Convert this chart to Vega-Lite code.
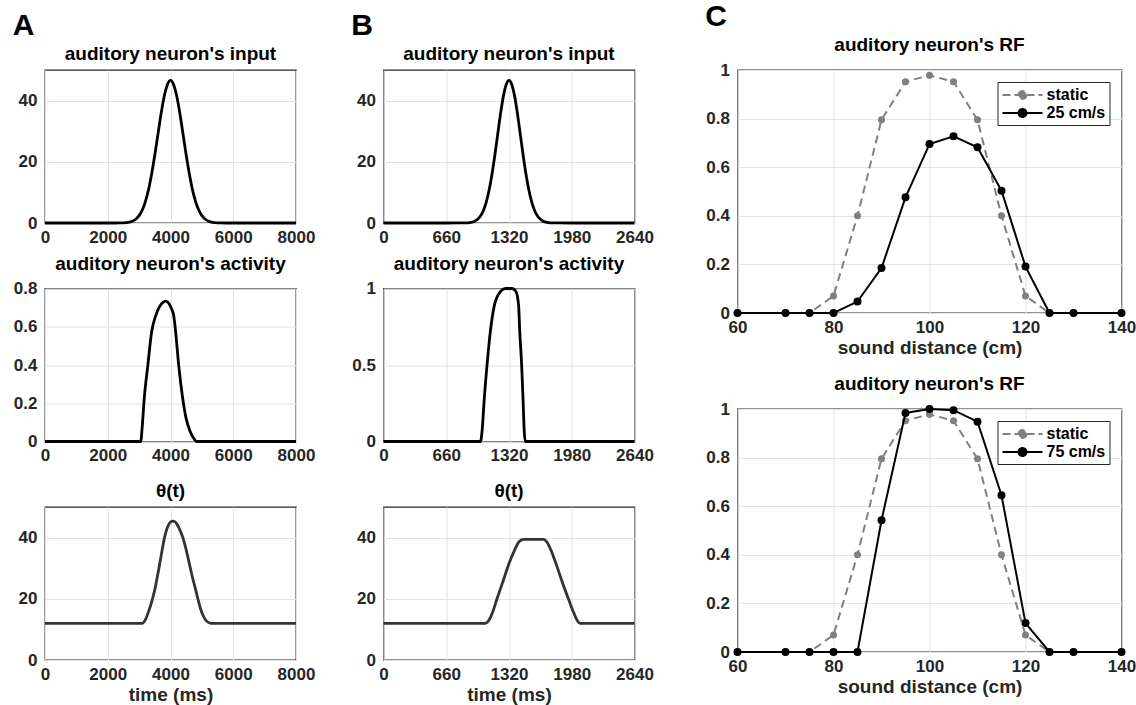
{
  "$schema": "https://vega.github.io/schema/vega-lite/v6.json",
  "background": "white",
  "padding": {"left": 12, "top": 2, "right": 0, "bottom": 0},
  "config": {
    "font": "Liberation Sans",
    "view": {"stroke": "#262626", "strokeWidth": 1.3},
    "axis": {
      "labelFont": "Liberation Sans", "labelFontWeight": "bold", "labelFontSize": 17, "labelColor": "#262626",
      "titleFont": "Liberation Sans", "titleFontWeight": "bold", "titleFontSize": 19, "titleColor": "#262626",
      "grid": true, "gridColor": "#e3e3e3", "gridWidth": 1, "domain": false, "ticks": false,
      "labelFlush": false, "labelOverlap": false, "labelPadding": 6, "titlePadding": 3
    },
    "axisY": {"labelPadding": 8},
    "title": {"font": "Liberation Sans", "fontSize": 19, "fontWeight": "bold", "color": "#000000", "offset": 6},
    "legend": {
      "title": null, "orient": "top-right", "offset": 12, "padding": 4,
      "strokeColor": "#262626", "fillColor": "white",
      "labelFont": "Liberation Sans", "labelFontSize": 16, "labelFontWeight": "bold", "labelColor": "#000000",
      "symbolType": "M-1,0L4,0M1,0A0.5,0.5,0,1,1,2,0A0.5,0.5,0,1,1,1,0Z",
      "symbolSize": 256, "symbolStrokeWidth": 2, "rowPadding": 1, "labelOffset": 27
    }
  },
  "hconcat": [
    {
      "hconcat": [
        {
          "title": {"text": "A", "anchor": "start", "fontSize": 30, "fontWeight": "bold", "offset": 3},
          "vconcat": [
            {
              "width": 251, "height": 153,
              "title": "auditory neuron's input",
              "data": {"values": [
                {"t":0,"v":0},{"t":2000,"v":0},{"t":2400,"v":0.02},{"t":2600,"v":0.14},{"t":2700,"v":0.31},{"t":2800,"v":0.66},{"t":2900,"v":1.3},{"t":3000,"v":2.41},{"t":3100,"v":4.24},{"t":3200,"v":7.01},{"t":3300,"v":10.9},{"t":3400,"v":16.1},{"t":3500,"v":22.2},{"t":3600,"v":29.0},{"t":3700,"v":35.7},{"t":3800,"v":41.4},{"t":3900,"v":45.2},{"t":4000,"v":46.6},{"t":4100,"v":45.2},{"t":4200,"v":41.4},{"t":4300,"v":35.7},{"t":4400,"v":29.0},{"t":4500,"v":22.2},{"t":4600,"v":16.1},{"t":4700,"v":10.9},{"t":4800,"v":7.01},{"t":4900,"v":4.24},{"t":5000,"v":2.41},{"t":5100,"v":1.3},{"t":5200,"v":0.66},{"t":5300,"v":0.31},{"t":5400,"v":0.14},{"t":5600,"v":0.02},{"t":6000,"v":0},{"t":8000,"v":0}
              ]},
              "mark": {"type": "line", "color": "#000000", "strokeWidth": 2.8, "interpolate": "monotone"},
              "encoding": {
                "x": {"field": "t", "type": "quantitative", "scale": {"domain": [0, 8000], "nice": false}, "axis": {"values": [0, 2000, 4000, 6000, 8000], "format": "d", "title": null}},
                "y": {"field": "v", "type": "quantitative", "scale": {"domain": [0, 50], "nice": false}, "axis": {"values": [0, 20, 40], "title": null}}
              }
            },
            {
              "width": 251, "height": 153,
              "title": "auditory neuron's activity",
              "data": {"values": [
                {"t":0,"v":0},{"t":3050,"v":0},{"t":3100,"v":0.08},{"t":3165,"v":0.229},{"t":3280,"v":0.402},{"t":3400,"v":0.575},{"t":3536,"v":0.661},{"t":3650,"v":0.705},{"t":3760,"v":0.727},{"t":3855,"v":0.734},{"t":3950,"v":0.722},{"t":4030,"v":0.695},{"t":4099,"v":0.661},{"t":4163,"v":0.575},{"t":4259,"v":0.402},{"t":4386,"v":0.229},{"t":4492,"v":0.125},{"t":4620,"v":0.055},{"t":4758,"v":0.012},{"t":4830,"v":0},{"t":8000,"v":0}
              ]},
              "mark": {"type": "line", "color": "#000000", "strokeWidth": 2.8, "interpolate": "monotone"},
              "encoding": {
                "x": {"field": "t", "type": "quantitative", "scale": {"domain": [0, 8000], "nice": false}, "axis": {"values": [0, 2000, 4000, 6000, 8000], "format": "d", "title": null}},
                "y": {"field": "v", "type": "quantitative", "scale": {"domain": [0, 0.8], "nice": false}, "axis": {"values": [0, 0.2, 0.4, 0.6, 0.8], "format": "~g", "title": null}}
              }
            },
            {
              "width": 251, "height": 153,
              "title": "θ(t)",
              "data": {"values": [
                {"t":0,"v":12},{"t":3100,"v":12},{"t":3200,"v":13.2},{"t":3300,"v":15.8},{"t":3400,"v":19},{"t":3500,"v":23},{"t":3600,"v":28.3},{"t":3700,"v":34},{"t":3809,"v":40},{"t":3900,"v":43.3},{"t":4000,"v":45.1},{"t":4074,"v":45.4},{"t":4150,"v":45.1},{"t":4200,"v":44.5},{"t":4300,"v":42.5},{"t":4394,"v":40},{"t":4500,"v":36},{"t":4600,"v":31.5},{"t":4700,"v":27},{"t":4800,"v":23},{"t":4872,"v":20},{"t":4950,"v":17},{"t":5050,"v":14.3},{"t":5150,"v":12.7},{"t":5250,"v":12.1},{"t":5300,"v":12},{"t":8000,"v":12}
              ]},
              "mark": {"type": "line", "color": "#333333", "strokeWidth": 2.8, "interpolate": "monotone"},
              "encoding": {
                "x": {"field": "t", "type": "quantitative", "scale": {"domain": [0, 8000], "nice": false}, "axis": {"values": [0, 2000, 4000, 6000, 8000], "format": "d", "title": "time (ms)"}},
                "y": {"field": "v", "type": "quantitative", "scale": {"domain": [0, 50], "nice": false}, "axis": {"values": [0, 20, 40], "title": null}}
              }
            }
          ],
          "spacing": 65.5,
          "bounds": "flush"
        },
        {
          "title": {"text": "B", "anchor": "start", "fontSize": 30, "fontWeight": "bold", "offset": 3},
          "vconcat": [
            {
              "width": 251, "height": 153,
              "title": "auditory neuron's input",
              "data": {"values": [
                {"t":0,"v":0},{"t":660,"v":0},{"t":860,"v":0.04},{"t":920,"v":0.22},{"t":960,"v":0.6},{"t":990,"v":1.2},{"t":1020,"v":2.27},{"t":1050,"v":4.03},{"t":1080,"v":6.73},{"t":1110,"v":10.6},{"t":1140,"v":15.7},{"t":1170,"v":21.9},{"t":1200,"v":28.7},{"t":1230,"v":35.5},{"t":1260,"v":41.3},{"t":1290,"v":45.2},{"t":1320,"v":46.6},{"t":1350,"v":45.2},{"t":1380,"v":41.3},{"t":1410,"v":35.5},{"t":1440,"v":28.7},{"t":1470,"v":21.9},{"t":1500,"v":15.7},{"t":1530,"v":10.6},{"t":1560,"v":6.73},{"t":1590,"v":4.03},{"t":1620,"v":2.27},{"t":1650,"v":1.2},{"t":1680,"v":0.6},{"t":1720,"v":0.22},{"t":1780,"v":0.04},{"t":1980,"v":0},{"t":2640,"v":0}
              ]},
              "mark": {"type": "line", "color": "#000000", "strokeWidth": 2.8, "interpolate": "monotone"},
              "encoding": {
                "x": {"field": "t", "type": "quantitative", "scale": {"domain": [0, 2640], "nice": false}, "axis": {"values": [0, 660, 1320, 1980, 2640], "format": "d", "title": null}},
                "y": {"field": "v", "type": "quantitative", "scale": {"domain": [0, 50], "nice": false}, "axis": {"values": [0, 20, 40], "title": null}}
              }
            },
            {
              "width": 251, "height": 153,
              "title": "auditory neuron's activity",
              "data": {"values": [
                {"t":0,"v":0},{"t":1020,"v":0},{"t":1037,"v":0.07},{"t":1061,"v":0.29},{"t":1089,"v":0.5},{"t":1124,"v":0.72},{"t":1166,"v":0.89},{"t":1229,"v":0.98},{"t":1280,"v":1.0},{"t":1350,"v":1.0},{"t":1393,"v":0.98},{"t":1421,"v":0.89},{"t":1433,"v":0.72},{"t":1453,"v":0.5},{"t":1467,"v":0.29},{"t":1480,"v":0.07},{"t":1491,"v":0},{"t":2640,"v":0}
              ]},
              "mark": {"type": "line", "color": "#000000", "strokeWidth": 2.8, "interpolate": "monotone"},
              "encoding": {
                "x": {"field": "t", "type": "quantitative", "scale": {"domain": [0, 2640], "nice": false}, "axis": {"values": [0, 660, 1320, 1980, 2640], "format": "d", "title": null}},
                "y": {"field": "v", "type": "quantitative", "scale": {"domain": [0, 1], "nice": false}, "axis": {"values": [0, 0.5, 1], "format": "~g", "title": null}}
              }
            },
            {
              "width": 251, "height": 153,
              "title": "θ(t)",
              "data": {"values": [
                {"t":0,"v":12},{"t":1070,"v":12},{"t":1100,"v":12.6},{"t":1140,"v":15},{"t":1194,"v":20},{"t":1260,"v":26},{"t":1320,"v":31.5},{"t":1380,"v":36},{"t":1430,"v":38.8},{"t":1473,"v":39.45},{"t":1683,"v":39.45},{"t":1720,"v":38.5},{"t":1760,"v":36},{"t":1820,"v":31},{"t":1880,"v":25.5},{"t":1945,"v":20},{"t":2000,"v":15.5},{"t":2040,"v":12.8},{"t":2070,"v":12},{"t":2640,"v":12}
              ]},
              "mark": {"type": "line", "color": "#333333", "strokeWidth": 2.8, "interpolate": "monotone"},
              "encoding": {
                "x": {"field": "t", "type": "quantitative", "scale": {"domain": [0, 2640], "nice": false}, "axis": {"values": [0, 660, 1320, 1980, 2640], "format": "d", "title": "time (ms)"}},
                "y": {"field": "v", "type": "quantitative", "scale": {"domain": [0, 50], "nice": false}, "axis": {"values": [0, 20, 40], "title": null}}
              }
            }
          ],
          "spacing": 65.5,
          "bounds": "flush"
        }
      ],
      "spacing": 34.5
    },
    {
      "title": {"text": "C", "anchor": "start", "fontSize": 30, "fontWeight": "bold", "offset": 3},
      "vconcat": [
        {
          "width": 384, "height": 243,
          "title": "auditory neuron's RF",
          "data": {"values": [
            {"d":60,"r":0,"s":"static"},{"d":70,"r":0,"s":"static"},{"d":75,"r":0,"s":"static"},{"d":80,"r":0.07,"s":"static"},{"d":85,"r":0.4,"s":"static"},{"d":90,"r":0.795,"s":"static"},{"d":95,"r":0.952,"s":"static"},{"d":100,"r":0.978,"s":"static"},{"d":105,"r":0.952,"s":"static"},{"d":110,"r":0.795,"s":"static"},{"d":115,"r":0.4,"s":"static"},{"d":120,"r":0.07,"s":"static"},{"d":125,"r":0,"s":"static"},{"d":130,"r":0,"s":"static"},{"d":140,"r":0,"s":"static"},
            {"d":60,"r":0,"s":"25 cm/s"},{"d":70,"r":0,"s":"25 cm/s"},{"d":75,"r":0,"s":"25 cm/s"},{"d":80,"r":0,"s":"25 cm/s"},{"d":85,"r":0.047,"s":"25 cm/s"},{"d":90,"r":0.185,"s":"25 cm/s"},{"d":95,"r":0.476,"s":"25 cm/s"},{"d":100,"r":0.695,"s":"25 cm/s"},{"d":105,"r":0.727,"s":"25 cm/s"},{"d":110,"r":0.682,"s":"25 cm/s"},{"d":115,"r":0.503,"s":"25 cm/s"},{"d":120,"r":0.191,"s":"25 cm/s"},{"d":125,"r":0,"s":"25 cm/s"},{"d":130,"r":0,"s":"25 cm/s"},{"d":140,"r":0,"s":"25 cm/s"}
          ]},
          "encoding": {
            "x": {"field": "d", "type": "quantitative", "scale": {"domain": [60, 140], "nice": false}, "axis": {"values": [60, 80, 100, 120, 140], "title": "sound distance (cm)"}},
            "y": {"field": "r", "type": "quantitative", "scale": {"domain": [0, 1], "nice": false}, "axis": {"values": [0, 0.2, 0.4, 0.6, 0.8, 1], "format": "~g", "title": null}},
            "color": {"field": "s", "type": "nominal", "scale": {"domain": ["static", "25 cm/s"], "range": ["#808080", "#000000"]},
              "legend": {"encode": {"symbols": {"update": {
                "fill": {"signal": "datum.value === 'static' ? '#808080' : '#000000'"},
                "stroke": {"signal": "datum.value === 'static' ? '#808080' : '#000000'"},
                "strokeDash": {"signal": "datum.value === 'static' ? [8,4] : [1,0]"},
                "shape": {"value": "M-1,0L4,0M1,0A0.5,0.5,0,1,1,2,0A0.5,0.5,0,1,1,1,0Z"},
                "size": {"value": 256}, "strokeWidth": {"value": 2}, "opacity": {"value": 1}}}}}}
          },
          "layer": [
            {"transform": [{"filter": "datum.s === 'static'"}], "mark": {"type": "line", "strokeWidth": 2, "strokeDash": [8, 5]}},
            {"transform": [{"filter": "datum.s === 'static'"}], "mark": {"type": "point", "filled": true, "size": 50, "opacity": 1}},
            {"transform": [{"filter": "datum.s !== 'static'"}], "mark": {"type": "line", "strokeWidth": 2}},
            {"transform": [{"filter": "datum.s !== 'static'"}], "mark": {"type": "point", "filled": true, "size": 64, "opacity": 1}}
          ]
        },
        {
          "width": 384, "height": 243,
          "title": "auditory neuron's RF",
          "data": {"values": [
            {"d":60,"r":0,"s":"static"},{"d":70,"r":0,"s":"static"},{"d":75,"r":0,"s":"static"},{"d":80,"r":0.07,"s":"static"},{"d":85,"r":0.4,"s":"static"},{"d":90,"r":0.795,"s":"static"},{"d":95,"r":0.952,"s":"static"},{"d":100,"r":0.978,"s":"static"},{"d":105,"r":0.952,"s":"static"},{"d":110,"r":0.795,"s":"static"},{"d":115,"r":0.4,"s":"static"},{"d":120,"r":0.07,"s":"static"},{"d":125,"r":0,"s":"static"},{"d":130,"r":0,"s":"static"},{"d":140,"r":0,"s":"static"},
            {"d":60,"r":0,"s":"75 cm/s"},{"d":70,"r":0,"s":"75 cm/s"},{"d":75,"r":0,"s":"75 cm/s"},{"d":80,"r":0,"s":"75 cm/s"},{"d":85,"r":0,"s":"75 cm/s"},{"d":90,"r":0.542,"s":"75 cm/s"},{"d":95,"r":0.984,"s":"75 cm/s"},{"d":100,"r":1.0,"s":"75 cm/s"},{"d":105,"r":0.995,"s":"75 cm/s"},{"d":110,"r":0.948,"s":"75 cm/s"},{"d":115,"r":0.645,"s":"75 cm/s"},{"d":120,"r":0.119,"s":"75 cm/s"},{"d":125,"r":0,"s":"75 cm/s"},{"d":130,"r":0,"s":"75 cm/s"},{"d":140,"r":0,"s":"75 cm/s"}
          ]},
          "encoding": {
            "x": {"field": "d", "type": "quantitative", "scale": {"domain": [60, 140], "nice": false}, "axis": {"values": [60, 80, 100, 120, 140], "title": "sound distance (cm)"}},
            "y": {"field": "r", "type": "quantitative", "scale": {"domain": [0, 1], "nice": false}, "axis": {"values": [0, 0.2, 0.4, 0.6, 0.8, 1], "format": "~g", "title": null}},
            "color": {"field": "s", "type": "nominal", "scale": {"domain": ["static", "75 cm/s"], "range": ["#808080", "#000000"]},
              "legend": {"encode": {"symbols": {"update": {
                "fill": {"signal": "datum.value === 'static' ? '#808080' : '#000000'"},
                "stroke": {"signal": "datum.value === 'static' ? '#808080' : '#000000'"},
                "strokeDash": {"signal": "datum.value === 'static' ? [8,4] : [1,0]"},
                "shape": {"value": "M-1,0L4,0M1,0A0.5,0.5,0,1,1,2,0A0.5,0.5,0,1,1,1,0Z"},
                "size": {"value": 256}, "strokeWidth": {"value": 2}, "opacity": {"value": 1}}}}}}
          },
          "layer": [
            {"transform": [{"filter": "datum.s === 'static'"}], "mark": {"type": "line", "strokeWidth": 2, "strokeDash": [8, 5]}},
            {"transform": [{"filter": "datum.s === 'static'"}], "mark": {"type": "point", "filled": true, "size": 50, "opacity": 1}},
            {"transform": [{"filter": "datum.s !== 'static'"}], "mark": {"type": "line", "strokeWidth": 2}},
            {"transform": [{"filter": "datum.s !== 'static'"}], "mark": {"type": "point", "filled": true, "size": 64, "opacity": 1}}
          ]
        }
      ],
      "spacing": 96,
      "bounds": "flush",
      "resolve": {"scale": {"color": "independent"}, "legend": {"color": "independent"}}
    }
  ],
  "spacing": 49.5
}
